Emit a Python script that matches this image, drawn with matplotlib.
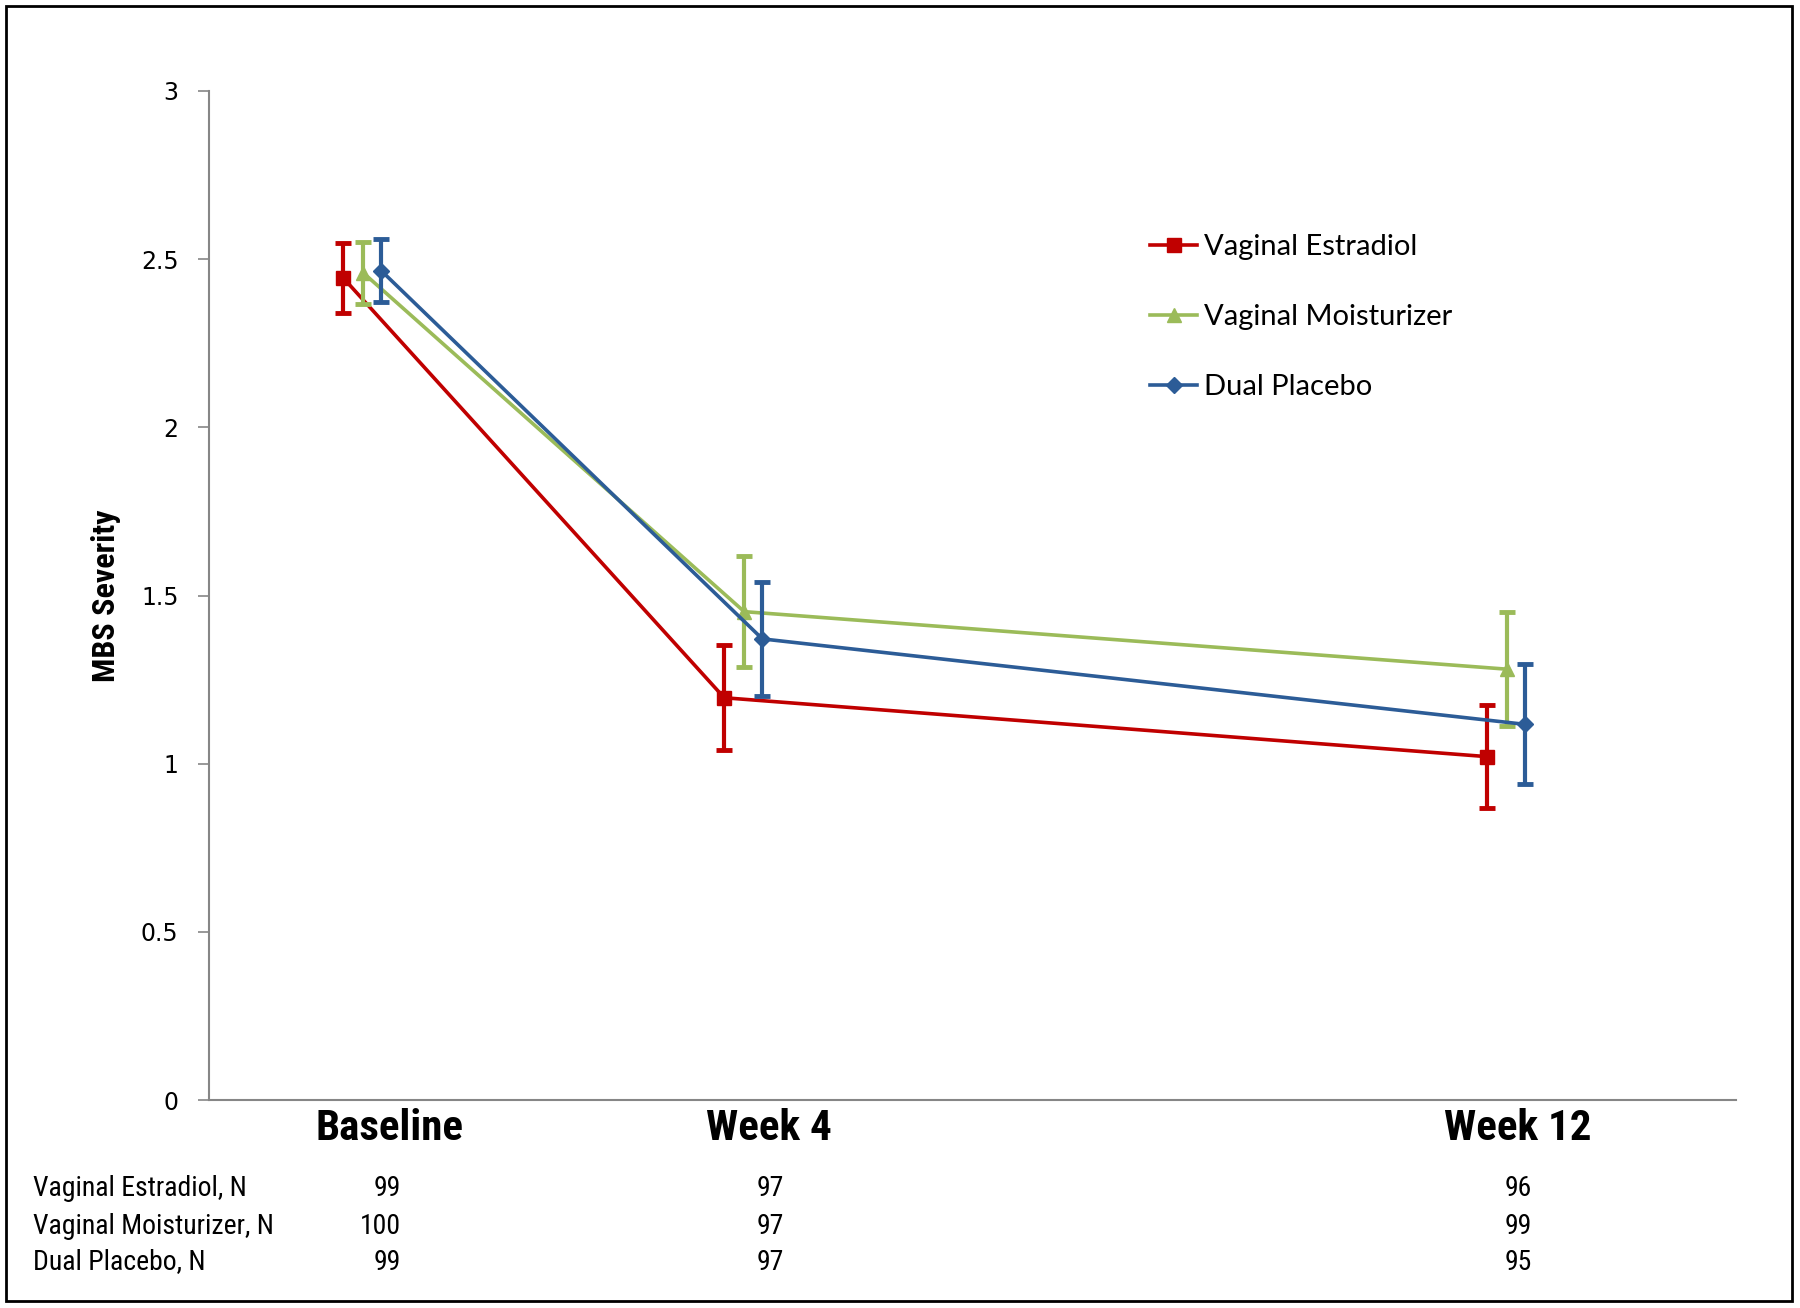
import matplotlib
matplotlib.use("Agg")
import matplotlib.pyplot as plt
from matplotlib import font_manager
from matplotlib.patches import Rectangle


# data
weeks = [0, 4, 12]
category_labels = ["Baseline", "Week 4", "Week 12"]

estradiol_mean = [2.445, 1.196, 1.021]
estradiol_err = [0.104, 0.156, 0.154]
moisturizer_mean = [2.460, 1.452, 1.281]
moisturizer_err = [0.092, 0.166, 0.169]
placebo_mean = [2.466, 1.371, 1.117]
placebo_err = [0.093, 0.170, 0.178]

series_names = ["Vaginal Estradiol", "Vaginal Moisturizer", "Dual Placebo"]
n_estradiol = [99, 97, 96]
n_moisturizer = [100, 97, 99]
n_placebo = [99, 97, 95]

y_ticks = [0, 0.5, 1, 1.5, 2, 2.5, 3]
y_tick_labels = ["0", "0.5", "1", "1.5", "2", "2.5", "3"]

# layout
RED = "#C00000"
GREEN = "#9BBB59"
BLUE = "#2C5C97"
SPINE_GRAY = "#868686"
SERIES_SHIFT = [-0.21, 0.0, 0.19]
LABEL_X = [0.28, 4.26, 12.12]
N_RIGHT_X = [0.40, 4.42, 12.27]


def _pick_font(candidates: list[str]) -> str:
    installed = {f.name for f in font_manager.fontManager.ttflist}
    for name in candidates:
        if name in installed:
            return name
    return "DejaVu Sans"


narrow = _pick_font(["Liberation Sans Narrow", "Roboto Condensed", "Open Sans Condensed", "Lato"])
body = _pick_font(["Lato", "Open Sans", "DejaVu Sans"])

fig = plt.figure(figsize=(18, 13.08), dpi=100)
ax = fig.add_axes([209 / 1800, 1 - 1100 / 1308, (1736 - 209) / 1800, (1100 - 91) / 1308])

means = [estradiol_mean, moisturizer_mean, placebo_mean]
errs = [estradiol_err, moisturizer_err, placebo_err]
colors = [RED, GREEN, BLUE]
markers = ["s", "^", "D"]
marker_sizes = [10, 10, 8.5]

for name, mean, err, color, marker, ms, shift in zip(
    series_names, means, errs, colors, markers, marker_sizes, SERIES_SHIFT
):
    x = [w + shift for w in weeks]
    ax.errorbar(
        x, mean, yerr=err, fmt="none", ecolor=color,
        elinewidth=3, capsize=6, capthick=3.5,
    )
    ax.plot(
        x, mean, color=color, lw=2.6, marker=marker, ms=ms,
        markerfacecolor=color, markeredgecolor=color, label=name,
    )

ax.set_xlim(-1.616, 14.407)
ax.set_ylim(0, 3)
ax.set_yticks(y_ticks)
ax.set_yticklabels(y_tick_labels, fontsize=17, family="DejaVu Sans")
ax.set_xticks([])
ax.tick_params(axis="y", length=8, width=1.2, color=SPINE_GRAY, pad=14)

for side in ("top", "right"):
    ax.spines[side].set_visible(False)
for side in ("left", "bottom"):
    ax.spines[side].set_color(SPINE_GRAY)
    ax.spines[side].set_linewidth(1.5)

ax.set_ylabel("MBS Severity", fontsize=23, fontweight="bold", family=narrow, labelpad=14)

for lx, label in zip(LABEL_X, category_labels):
    ax.text(
        lx, -0.0278, label, transform=ax.get_xaxis_transform(),
        ha="center", va="center", fontsize=31, fontweight="bold", family=narrow,
    )

row_y = [1 - 1188 / 1308, 1 - 1226 / 1308, 1 - 1262 / 1308]
row_counts = [n_estradiol, n_moisturizer, n_placebo]
for name, counts, ry in zip(series_names, row_counts, row_y):
    fig.text(33 / 1800, ry, f"{name}, N", ha="left", va="center", fontsize=20, family=narrow)
    for nx, count in zip(N_RIGHT_X, counts):
        xf = fig.transFigure.inverted().transform(ax.transData.transform((nx, 0)))[0]
        fig.text(xf, ry, str(count), ha="right", va="center", fontsize=20, family=narrow)

ax.legend(
    loc="upper left", bbox_to_anchor=(1124 / 1800, 1 - 208 / 1308),
    bbox_transform=fig.transFigure, frameon=False,
    handlelength=1.6, handletextpad=0.25, labelspacing=1.5,
    prop={"family": body, "size": 21},
)

fig.patches.append(
    Rectangle((6 / 1800, 7 / 1308), 1786 / 1800, 1295 / 1308, transform=fig.transFigure,
              fill=False, edgecolor="black", linewidth=2)
)

fig.savefig("out.png", dpi=100)
plt.close(fig)
